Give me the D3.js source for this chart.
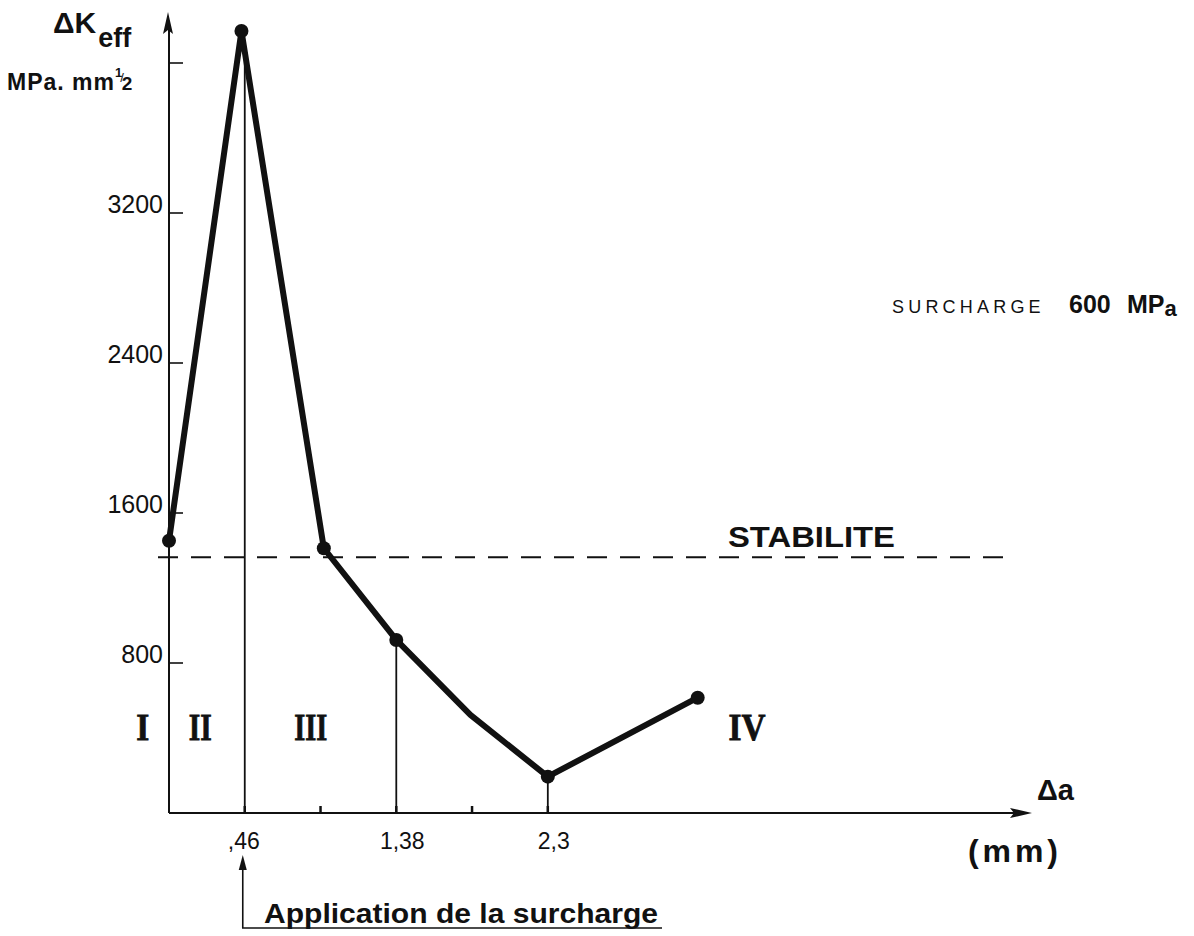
<!DOCTYPE html>
<html>
<head>
<meta charset="utf-8">
<script src="https://cdn.jsdelivr.net/npm/d3@7"></script>
<style>
  html, body { margin: 0; padding: 0; background: #fff; }
  svg { display: block; }
  text { fill: #111; }
</style>
</head>
<body>
<svg id="chart" width="1194" height="936"></svg>
<script>
// Crack growth Δa (mm) and effective stress intensity range ΔKeff (MPa·mm^1/2)
const crackGrowth = [0, 0.44, 0.94, 1.38, 1.83, 2.30, 3.21];
const deltaKeff   = [1452, 4171, 1412, 923, 523, 194, 615];
const hasMarker   = [true, true, true, true, false, true, true];

// Axis ticks
const yTicks      = [800, 1600, 2400, 3200, 4000];
const yTickLabels = ["800", "1600", "2400", "3200", ""];
const xTicks      = [0.46, 0.92, 1.38, 1.84, 2.30];
const xTickLabels = [",46", "", "1,38", "", "2,3"];

// Stability threshold and region boundaries
const stabilityLevel = 1364;
const regionLines    = [0.46, 1.38, 2.30];
const regionNames    = ["I", "II", "III", "IV"];
const regionPos      = [-0.16, 0.19, 0.86, 3.51];

const svg = d3.select("#chart");
const x = d3.scaleLinear().domain([0, 5]).range([169, 169 + 5 * 164.7]);
const y = d3.scaleLinear().domain([0, 4000]).range([813, 63]);

const ink = "#111";
const sans = "Liberation Sans, Arial, sans-serif";
const points = crackGrowth.map((d, i) => ({ a: d, k: deltaKeff[i], m: hasMarker[i] }));
const nearest = a => points.reduce((b, p) => Math.abs(p.a - a) < Math.abs(b.a - a) ? p : b);

// Axes
const axes = svg.append("g").attr("stroke", ink).attr("fill", "none");
axes.append("line").attr("x1", x(0)).attr("x2", 1020).attr("y1", y(0)).attr("y2", y(0)).attr("stroke-width", 2);
axes.append("line").attr("x1", x(0)).attr("x2", x(0)).attr("y1", y(0)).attr("y2", 25).attr("stroke-width", 2);
svg.append("path").attr("fill", ink)
  .attr("d", `M1032,${y(0)} L1010,${y(0) - 5} L1014,${y(0)} L1010,${y(0) + 5} Z`);
svg.append("path").attr("fill", ink)
  .attr("d", `M${x(0) - 1},12 L${x(0) - 6},34 L${x(0) - 1},30 L${x(0) + 4},34 Z`);

// Y ticks and labels
const yg = svg.append("g");
yTicks.forEach((t, i) => {
  yg.append("line").attr("x1", x(0)).attr("x2", x(0) + 14)
    .attr("y1", y(t)).attr("y2", y(t)).attr("stroke", ink).attr("stroke-width", 1.6);
  if (yTickLabels[i]) {
    yg.append("text").attr("x", 163).attr("y", y(t))
      .attr("text-anchor", "end")
      .attr("font-family", sans)
      .attr("font-size", 25).text(yTickLabels[i]);
  }
});

// X ticks and labels
const xg = svg.append("g");
xTicks.forEach((t, i) => {
  xg.append("line").attr("x1", x(t)).attr("x2", x(t))
    .attr("y1", y(0)).attr("y2", y(0) - 7).attr("stroke", ink).attr("stroke-width", 2.5);
  if (xTickLabels[i]) {
    xg.append("text").attr("x", x(t) + (i === 0 ? -1 : 6)).attr("y", 849)
      .attr("text-anchor", "middle")
      .attr("font-family", sans)
      .attr("font-size", 23).text(xTickLabels[i]);
  }
});

// Region boundary verticals, each rising to the curve
regionLines.forEach(a => {
  const p = nearest(a);
  svg.append("line").attr("x1", x(a)).attr("x2", x(a))
    .attr("y1", y(0)).attr("y2", y(p.k) + (a < 1 ? 10 : 0))
    .attr("stroke", ink).attr("stroke-width", 1.8);
});

// Stability threshold
svg.append("line").attr("x1", 158).attr("x2", 1010)
  .attr("y1", y(stabilityLevel)).attr("y2", y(stabilityLevel))
  .attr("stroke", ink).attr("stroke-width", 2).attr("stroke-dasharray", "20 13");

svg.append("text").attr("x", 728).attr("y", 547)
  .attr("font-family", sans).attr("font-weight", "bold")
  .attr("font-size", 30).attr("textLength", 167).attr("lengthAdjust", "spacingAndGlyphs")
  .text("STABILITE");

// Curve
const line = d3.line().x(d => x(d.a)).y(d => y(d.k));
svg.append("path").datum(points).attr("d", line)
  .attr("fill", "none").attr("stroke", ink).attr("stroke-width", 6)
  .attr("stroke-linejoin", "round").attr("stroke-linecap", "round");
svg.selectAll("circle.pt").data(points.filter(d => d.m)).join("circle")
  .attr("class", "pt").attr("cx", d => x(d.a)).attr("cy", d => y(d.k))
  .attr("r", 7).attr("fill", ink);

// Region numerals
regionNames.forEach((n, i) => {
  svg.append("text").attr("x", x(regionPos[i])).attr("y", 740)
    .attr("text-anchor", "middle")
    .attr("font-family", "Liberation Serif, Times New Roman, serif").attr("font-weight", "bold")
    .attr("font-size", 38).attr("stroke", ink).attr("stroke-width", 0.8)
    .attr("textLength", [13, 23, 33, 37][i]).attr("lengthAdjust", "spacingAndGlyphs")
    .text(n);
});

// Y axis title
const t1 = svg.append("text").attr("x", 53).attr("y", 33)
  .attr("font-family", sans).attr("font-weight", "bold").attr("font-size", 30);
t1.append("tspan").text("ΔK");
t1.append("tspan").attr("dy", 14).attr("dx", 2).attr("font-size", 27).text("eff");

const unit = svg.append("text").attr("x", 7).attr("y", 90)
  .attr("font-family", sans).attr("font-weight", "bold").attr("font-size", 23);
unit.append("tspan").attr("letter-spacing", 1).text("MPa. mm");
unit.append("tspan").attr("dy", -13).attr("font-size", 13).text("1");
unit.append("tspan").attr("dy", 5).attr("dx", -2).attr("font-size", 13).attr("font-weight", "normal").text("/");
unit.append("tspan").attr("dy", 8).attr("dx", -2).attr("font-size", 19).text("2");

// X axis title
svg.append("text").attr("x", 1037).attr("y", 800)
  .attr("font-family", sans).attr("font-weight", "bold").attr("font-size", 29).text("Δa");
svg.append("text").attr("x", 968).attr("y", 862)
  .attr("font-family", sans).attr("font-weight", "bold").attr("font-size", 32)
  .attr("textLength", 90).attr("lengthAdjust", "spacing").text("(mm)");

// Load annotation
const surch = svg.append("text").attr("x", 892).attr("y", 313)
  .attr("font-family", sans).attr("font-size", 18);
surch.append("tspan").attr("font-weight", 300).attr("letter-spacing", 4.2).text("SURCHARGE");
surch.append("tspan").attr("x", 1069).attr("font-weight", "bold").attr("font-size", 25).text("600");
surch.append("tspan").attr("x", 1127).attr("font-weight", "bold").attr("font-size", 25).text("MP");
surch.append("tspan").attr("font-weight", "bold").attr("font-size", 22).attr("dy", 3).text("a");

// Overload application marker
const xo = x(0.46) - 2;
svg.append("path").attr("fill", "none").attr("stroke", ink).attr("stroke-width", 1.6)
  .attr("d", `M${xo},862 L${xo},928 L662,928`);
svg.append("path").attr("fill", ink)
  .attr("d", `M${xo},855 L${xo - 4},870 L${xo + 4},870 Z`);
svg.append("text").attr("x", 264).attr("y", 923)
  .attr("font-family", sans).attr("font-weight", "bold").attr("font-size", 28)
  .attr("textLength", 394).attr("lengthAdjust", "spacingAndGlyphs")
  .text("Application de la surcharge");
</script>
</body>
</html>
